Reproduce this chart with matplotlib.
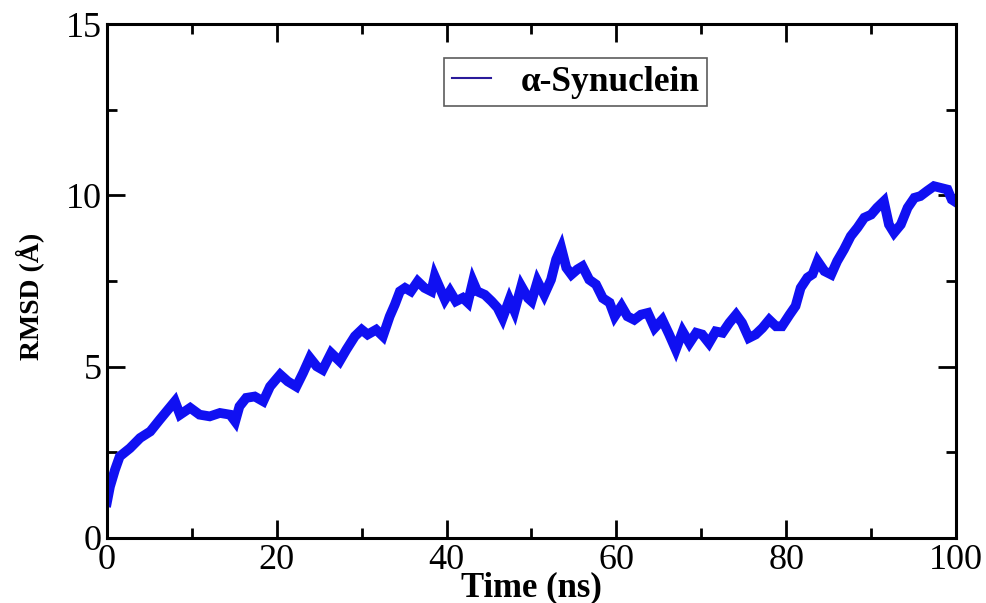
import matplotlib
matplotlib.use("Agg")
import matplotlib.pyplot as plt
from matplotlib.ticker import MultipleLocator

# RMSD trajectory (time in ns, RMSD in Angstrom)
time_ns = [0.0, 0.35, 0.94, 1.5, 2.7, 3.9, 5.1, 6.2, 7.0, 8.0, 8.6, 9.8,
           10.9, 12.1, 13.3, 14.5, 15.1, 15.6, 16.4, 17.4, 18.4, 19.2, 20.4,
           21.3, 22.3, 23.1, 23.9, 24.7, 25.4, 26.4, 27.4, 28.2, 29.2, 30.0,
           30.7, 31.7, 32.5, 33.3, 33.9, 34.5, 35.1, 35.8, 36.6, 37.4, 38.2,
           38.6, 39.2, 39.8, 40.4, 41.1, 41.9, 42.5, 43.1, 43.6, 44.5, 45.3,
           46.0, 46.6, 47.4, 48.0, 48.8, 49.6, 50.0, 50.7, 51.5, 52.3, 52.9,
           53.5, 54.1, 54.7, 55.4, 56.0, 56.8, 57.6, 58.4, 59.2, 59.8, 60.6,
           61.3, 62.1, 62.9, 63.7, 64.5, 65.4, 66.2, 67.0, 67.8, 68.6, 69.4,
           70.1, 70.9, 71.7, 72.5, 73.3, 74.1, 74.8, 75.6, 76.4, 77.2, 78.0,
           78.8, 79.5, 80.4, 81.1, 81.7, 82.5, 83.1, 83.7, 84.5, 85.3, 86.0,
           86.8, 87.6, 88.4, 89.2, 90.0, 90.7, 91.5, 92.1, 92.7, 93.5, 94.3,
           95.1, 95.8, 96.6, 97.4, 98.2, 99.0, 99.5, 100.0]
rmsd = [1.05, 1.5, 1.99, 2.38, 2.62, 2.92, 3.11, 3.45, 3.69, 3.99, 3.6, 3.8,
        3.6, 3.55, 3.65, 3.6, 3.4, 3.84, 4.09, 4.13, 3.99, 4.42, 4.77,
        4.57, 4.42, 4.82, 5.26, 5.01, 4.91, 5.4, 5.16, 5.5, 5.89, 6.08,
        5.94, 6.08, 5.89, 6.47, 6.81, 7.2, 7.3, 7.2, 7.49, 7.3, 7.2,
        7.64, 7.3, 6.96, 7.2, 6.91, 7.01, 6.87, 7.49, 7.2, 7.1, 6.91,
        6.72, 6.42, 6.96, 6.62, 7.35, 7.0, 6.91, 7.49, 7.1, 7.54, 8.13,
        8.47, 7.89, 7.69, 7.84, 7.93, 7.54, 7.4, 7.0, 6.87, 6.47, 6.77,
        6.47, 6.37, 6.52, 6.57, 6.13, 6.37, 5.95, 5.5, 6.03, 5.69, 5.99,
        5.94, 5.69, 6.03, 5.99, 6.28, 6.52, 6.28, 5.84, 5.94, 6.13, 6.37,
        6.18, 6.18, 6.52, 6.77, 7.3, 7.6, 7.7, 8.08, 7.79, 7.69, 8.08,
        8.42, 8.81, 9.06, 9.35, 9.44, 9.64, 9.83, 9.15, 8.91, 9.15, 9.64,
        9.93, 9.98, 10.13, 10.27, 10.22, 10.17, 9.88, 9.8]

x_ticks = [0, 20, 40, 60, 80, 100]
y_ticks = [0, 5, 10, 15]

plt.rcParams['font.family'] = ['Liberation Serif', 'DejaVu Serif']

fig = plt.figure(figsize=(9.87, 6.03), dpi=100)
ax = fig.add_axes([0.1084, 0.1078, 0.8602, 0.8522])

ax.plot(time_ns, rmsd, color='#1010f2', linewidth=7,
        solid_joinstyle='miter', label='\u03b1-Synuclein')

ax.set_xlim(0, 100)
ax.set_ylim(0, 15)
ax.set_xticks(x_ticks)
ax.set_yticks(y_ticks)
ax.xaxis.set_minor_locator(MultipleLocator(10))
ax.yaxis.set_minor_locator(MultipleLocator(2.5))
ax.tick_params(which='both', direction='in', top=True, right=True,
               width=2, labelsize=26, pad=4)
ax.tick_params(which='major', length=13)
ax.tick_params(which='minor', length=7)
for s in ax.spines.values():
    s.set_linewidth(2.2)

ax.set_xlabel('Time (ns)', fontsize=25, fontweight='bold', labelpad=-4)
ax.set_ylabel('RMSD (\u00c5)', fontsize=20, fontweight='bold')
ax.yaxis.set_label_coords(-0.074, 0.47)

leg = ax.legend(loc='center', bbox_to_anchor=(0.552, 0.887), fancybox=False,
                edgecolor='#333333', handlelength=1.1, handletextpad=0.85,
                borderpad=0.22, prop={'weight': 'bold', 'size': 25.5})
leg.get_frame().set_linewidth(1.2)
leg.get_lines()[0].set_linewidth(1.5)
leg.get_lines()[0].set_color('#2a1a9a')

fig.savefig('out.png', dpi=100)
